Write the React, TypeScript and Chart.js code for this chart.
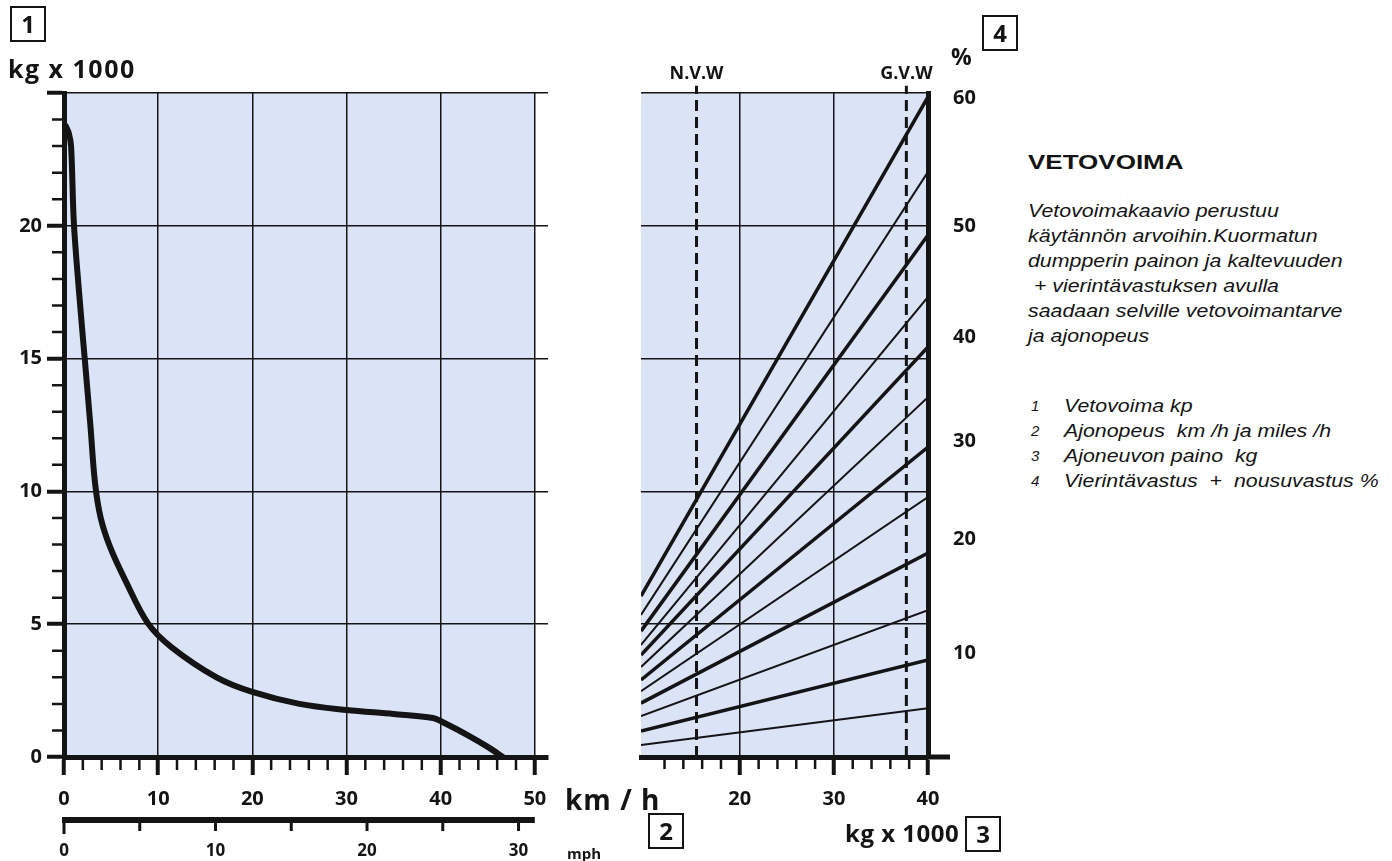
import React, { useEffect, useRef } from 'react';
import { Chart, registerables } from 'chart.js';

Chart.register(...registerables);

const INK = '#141414';
const PANEL_BLUE = '#dbe4f7';
const NUM_FONT = "'Open Sans', 'DejaVu Sans', sans-serif";
const TEXT_FONT = "'Liberation Sans', Arial, sans-serif";

// ---------- Left chart: tractive force (kg x 1000) vs speed (km/h) ----------
const speedKmh = [0.2, 0.5, 0.75, 1.05, 1.6, 2.2, 2.8, 3.3, 3.9, 4.9, 6.5, 8.9, 11.4, 16.2, 20, 25, 30, 35, 39.2, 40.3, 43, 45, 46.6];
const tractionKg = [23.75, 23.5, 23.0, 20.1, 17.5, 15.0, 12.5, 10.3, 9.0, 7.9, 6.66, 5.04, 4.14, 3.0, 2.45, 2.0, 1.77, 1.62, 1.47, 1.3, 0.8, 0.38, 0];
const kmhMajorTicks = [0, 10, 20, 30, 40, 50];
const kmhMinorTicks = [2, 4, 6, 8, 12, 14, 16, 18, 22, 24, 26, 28, 32, 34, 36, 38, 42, 44, 46, 48];
const kmhAxisMax = 51.4;
const kmhPlotEnd = 50;
const kmhPerMph = 1.609;
const mphLabelTicks = [0, 10, 20, 30];
const mphMarkTicks = [0, 5, 10, 15, 20, 25, 30];
const forceMajorTicks = [0, 5, 10, 15, 20, 25];
const forceLabels = ['0', '5', '10', '15', '20', ''];
const forceMinorTicks = [1, 2, 3, 4, 6, 7, 8, 9, 11, 12, 13, 14, 16, 17, 18, 19, 21, 22, 23, 24];
const forceMax = 25;

// ---------- Right chart: vehicle weight (kg x 1000) vs grade resistance (%) ----------
const weightMin = 9.5;
const weightMax = 40;
const weightMajorTicks = [20, 30, 40];
const weightMinorTicks = [12, 14, 16, 18, 22, 24, 26, 28, 32, 34, 36, 38];
const gradePct = [60, 55, 50, 45, 40, 35, 30, 25, 20, 15, 10, 5];
const gradeForceAtMin = [6.06, 5.35, 4.74, 4.22, 3.84, 3.39, 2.9, 2.48, 2.03, 1.54, 0.98, 0.45];
const gradeForceAtMax = [24.85, 22.03, 19.65, 17.32, 15.44, 13.55, 11.67, 9.79, 7.68, 5.53, 3.65, 1.84];
const gradeLabelPos = [24.8, 20.0, 15.8, 11.9, 8.2, 3.9];
const gradeLabels = ['60', '50', '40', '30', '20', '10'];
const refLineNames = ['N.V.W', 'G.V.W'];
const refLineWeights = [15.4, 37.7];
const refLineTop = 25.27;

const leftDecor = {
  id: 'leftDecor',
  beforeDraw(chart: any) {
    const { ctx, chartArea, scales } = chart;
    const x = scales.x;
    ctx.save();
    ctx.fillStyle = PANEL_BLUE;
    const right = x.getPixelForValue(kmhPlotEnd);
    ctx.fillRect(chartArea.left, chartArea.top, right - chartArea.left, chartArea.bottom - chartArea.top);
    ctx.restore();
  },
  afterDraw(chart: any) {
    const { ctx, chartArea, scales } = chart;
    const x = scales.x;
    const y = scales.y;
    const x2 = scales.x2;
    ctx.save();
    ctx.strokeStyle = INK;
    ctx.lineWidth = 2.5;
    ctx.beginPath();
    kmhMinorTicks.forEach((v) => {
      const px = x.getPixelForValue(v);
      ctx.moveTo(px, chartArea.bottom);
      ctx.lineTo(px, chartArea.bottom + 13);
    });
    forceMinorTicks.forEach((v) => {
      const py = y.getPixelForValue(v);
      ctx.moveTo(chartArea.left, py);
      ctx.lineTo(chartArea.left - 12, py);
    });
    ctx.stroke();
    // mph scale
    const lineY = x2.top + 1;
    ctx.lineWidth = 6;
    ctx.beginPath();
    ctx.moveTo(x2.getPixelForValue(0) - 2, lineY);
    ctx.lineTo(x2.getPixelForValue(kmhPlotEnd / kmhPerMph), lineY);
    ctx.stroke();
    ctx.lineWidth = 3;
    ctx.beginPath();
    mphMarkTicks.forEach((v, i) => {
      const px = x2.getPixelForValue(v);
      ctx.moveTo(px, lineY);
      ctx.lineTo(px, lineY + (i === 0 ? 14 : 11));
    });
    ctx.stroke();
    ctx.restore();
  },
};

const rightDecor = {
  id: 'rightDecor',
  beforeDraw(chart: any) {
    const { ctx, chartArea } = chart;
    ctx.save();
    ctx.fillStyle = PANEL_BLUE;
    ctx.fillRect(chartArea.left, chartArea.top, chartArea.right - chartArea.left, chartArea.bottom - chartArea.top);
    ctx.restore();
  },
  afterDraw(chart: any) {
    const { ctx, chartArea, scales } = chart;
    const x = scales.x;
    ctx.save();
    ctx.strokeStyle = INK;
    ctx.lineWidth = 2.5;
    ctx.beginPath();
    weightMinorTicks.forEach((v) => {
      const px = x.getPixelForValue(v);
      ctx.moveTo(px, chartArea.bottom);
      ctx.lineTo(px, chartArea.bottom + 12);
    });
    ctx.stroke();
    ctx.lineWidth = 5;
    ctx.beginPath();
    ctx.moveTo(chartArea.right, chartArea.bottom);
    ctx.lineTo(chartArea.right + 22, chartArea.bottom);
    ctx.stroke();
    ctx.fillStyle = INK;
    ctx.font = `bold 18px ${NUM_FONT}`;
    ctx.textAlign = 'center';
    ctx.textBaseline = 'middle';
    refLineWeights.forEach((w, i) => {
      ctx.fillText(refLineNames[i], x.getPixelForValue(w), chartArea.top - 19);
    });
    ctx.restore();
  },
};

const boxStyle = (left: number, top: number): React.CSSProperties => ({
  position: 'absolute',
  left,
  top,
  width: 32,
  height: 32,
  border: `2px solid ${INK}`,
  display: 'flex',
  alignItems: 'center',
  justifyContent: 'center',
  font: `bold 24px ${NUM_FONT}`,
  color: INK,
  lineHeight: 1,
});

const labelStyle = (left: number, centerY: number, size: number, spacing = 0): React.CSSProperties => ({
  position: 'absolute',
  left,
  top: centerY - size * 0.7,
  height: size * 1.4,
  lineHeight: `${size * 1.4}px`,
  font: `bold ${size}px ${NUM_FONT}`,
  letterSpacing: spacing,
  color: INK,
  whiteSpace: 'nowrap',
});

const paragraph = [
  'Vetovoimakaavio perustuu',
  'käytännön arvoihin.Kuormatun',
  'dumpperin painon ja kaltevuuden',
  '\u00a0+ vierintävastuksen avulla',
  'saadaan selville vetovoimantarve',
  'ja ajonopeus',
];
const legendNums = ['1', '2', '3', '4'];
const legendTexts = ['Vetovoima kp', 'Ajonopeus  km /h ja miles /h', 'Ajoneuvon paino  kg', 'Vierintävastus  +  nousuvastus %'];

export default function App() {
  const leftRef = useRef<HTMLCanvasElement>(null);
  const rightRef = useRef<HTMLCanvasElement>(null);

  useEffect(() => {
    const tickFont = { family: NUM_FONT, size: 20, weight: 'bold' as const };
    const left = new Chart(leftRef.current as HTMLCanvasElement, {
      type: 'line',
      data: {
        datasets: [
          {
            data: speedKmh.map((v, i) => ({ x: v, y: tractionKg[i] })),
            borderColor: INK,
            borderWidth: 6,
            pointRadius: 0,
            tension: 0.35,
            borderCapStyle: 'round',
            borderJoinStyle: 'round',
            fill: false,
          },
        ],
      },
      options: {
        responsive: false,
        animation: false,
        layout: { padding: { left: 0, top: 93, right: 72, bottom: 0 } },
        plugins: { legend: { display: false }, tooltip: { enabled: false } },
        scales: {
          x: {
            type: 'linear',
            position: 'bottom',
            min: 0,
            max: kmhAxisMax,
            weight: 0,
            afterBuildTicks: (s: any) => {
              s.ticks = kmhMajorTicks.map((v) => ({ value: v }));
            },
            afterFit: (s: any) => {
              s.height = 62;
            },
            ticks: { font: tickFont, color: INK, padding: 12, maxRotation: 0, autoSkip: false, callback: (v: any) => String(v) },
            grid: { color: INK, lineWidth: 1.5, drawTicks: true, tickLength: 18, tickWidth: 4, tickColor: INK },
            border: { display: true, color: INK, width: 5 },
          },
          x2: {
            type: 'linear',
            position: 'bottom',
            min: 0,
            max: kmhAxisMax / kmhPerMph,
            weight: 1,
            afterBuildTicks: (s: any) => {
              s.ticks = mphLabelTicks.map((v) => ({ value: v }));
            },
            afterFit: (s: any) => {
              s.height = 42;
            },
            ticks: { font: { family: NUM_FONT, size: 17, weight: 'bold' }, color: INK, padding: 22, maxRotation: 0, autoSkip: false },
            grid: { display: false, drawTicks: false },
            border: { display: false },
          },
          y: {
            type: 'linear',
            min: 0,
            max: forceMax,
            afterBuildTicks: (s: any) => {
              s.ticks = forceMajorTicks.map((v) => ({ value: v }));
            },
            afterFit: (s: any) => {
              s.width = 64;
            },
            ticks: { font: tickFont, color: INK, padding: 5, autoSkip: false, callback: (_v: any, i: number) => forceLabels[i] },
            grid: { color: INK, lineWidth: 1.5, drawTicks: true, tickLength: 17, tickWidth: 4, tickColor: INK },
            border: { display: true, color: INK, width: 5 },
          },
        },
      } as any,
      plugins: [leftDecor],
    });

    const right = new Chart(rightRef.current as HTMLCanvasElement, {
      type: 'line',
      data: {
        datasets: [
          ...gradePct.map((p, i) => ({
            data: [
              { x: weightMin, y: gradeForceAtMin[i] },
              { x: weightMax, y: gradeForceAtMax[i] },
            ],
            borderColor: INK,
            borderWidth: p % 10 === 0 ? 3.5 : 2,
            pointRadius: 0,
            fill: false,
          })),
          ...refLineWeights.map((w) => ({
            data: [
              { x: w, y: 0 },
              { x: w, y: refLineTop },
            ],
            borderColor: INK,
            borderWidth: 3,
            borderDash: [11, 6],
            pointRadius: 0,
            fill: false,
            clip: false,
          })),
        ],
      },
      options: {
        responsive: false,
        animation: false,
        layout: { padding: { left: 21, top: 93, right: 0, bottom: 0 } },
        plugins: { legend: { display: false }, tooltip: { enabled: false } },
        scales: {
          x: {
            type: 'linear',
            position: 'bottom',
            min: weightMin,
            max: weightMax,
            afterBuildTicks: (s: any) => {
              s.ticks = weightMajorTicks.map((v) => ({ value: v }));
            },
            afterFit: (s: any) => {
              s.height = 104;
            },
            ticks: { font: tickFont, color: INK, padding: 12, maxRotation: 0, autoSkip: false, callback: (v: any) => String(v) },
            grid: { color: INK, lineWidth: 1.5, drawTicks: true, tickLength: 18, tickWidth: 4, tickColor: INK },
            border: { display: true, color: INK, width: 5 },
          },
          y: {
            type: 'linear',
            position: 'left',
            min: 0,
            max: forceMax,
            afterBuildTicks: (s: any) => {
              s.ticks = forceMajorTicks.map((v) => ({ value: v }));
            },
            afterFit: (s: any) => {
              s.width = 0;
            },
            ticks: { display: false },
            grid: { color: INK, lineWidth: 1.5, drawTicks: false },
            border: { display: false },
          },
          yPct: {
            type: 'linear',
            position: 'right',
            min: 0,
            max: forceMax,
            afterBuildTicks: (s: any) => {
              s.ticks = gradeLabelPos.map((v) => ({ value: v }));
            },
            afterFit: (s: any) => {
              s.width = 82;
            },
            ticks: { font: tickFont, color: INK, padding: 25, autoSkip: false, callback: (_v: any, i: number) => gradeLabels[i] },
            grid: { drawOnChartArea: false, drawTicks: false },
            border: { display: true, color: INK, width: 5 },
          },
        },
      } as any,
      plugins: [rightDecor],
    });

    return () => {
      left.destroy();
      right.destroy();
    };
  }, []);

  const paraStyle: React.CSSProperties = {
    position: 'absolute',
    left: 1028,
    font: `italic 17.5px ${TEXT_FONT}`,
    color: INK,
    whiteSpace: 'pre',
    lineHeight: '20px',
    height: 20,
    transform: 'scaleX(1.22)',
    transformOrigin: 'left center',
  };

  return (
    <div style={{ position: 'fixed', left: 0, top: 0, width: 1392, height: 861, background: '#fff', overflow: 'hidden' }}>
      <canvas ref={leftRef} width={620} height={861} style={{ position: 'absolute', left: 0, top: 0, width: 620, height: 861 }} />
      <canvas ref={rightRef} width={390} height={861} style={{ position: 'absolute', left: 620, top: 0, width: 390, height: 861 }} />

      <div style={boxStyle(10, 6)}>1</div>
      <div style={labelStyle(8, 68, 25, 1.5)}>kg x 1000</div>
      <div style={labelStyle(565, 800, 28, 1)}>km / h</div>
      <div style={labelStyle(567, 853, 15)}>mph</div>
      <div style={boxStyle(648, 813)}>2</div>
      <div style={labelStyle(845, 833, 24, 0.5)}>kg x 1000</div>
      <div style={boxStyle(965, 816)}>3</div>
      <div style={boxStyle(982, 15)}>4</div>
      <div style={labelStyle(951, 56, 23)}>%</div>

      <div
        style={{
          position: 'absolute',
          left: 1028,
          top: 150,
          font: `bold 20px ${TEXT_FONT}`,
          color: INK,
          lineHeight: '24px',
          transform: 'scaleX(1.3)',
          transformOrigin: 'left center',
          whiteSpace: 'nowrap',
        }}
      >
        VETOVOIMA
      </div>
      {paragraph.map((line, i) => (
        <div key={'p' + i} style={{ ...paraStyle, top: 201 + i * 25 }}>
          {line}
        </div>
      ))}
      {legendTexts.map((t, i) => (
        <React.Fragment key={'l' + i}>
          <div style={{ ...paraStyle, left: 1031, top: 396 + i * 25, transform: 'none', fontSize: 15 }}>{legendNums[i]}</div>
          <div style={{ ...paraStyle, left: 1064, top: 396 + i * 25 }}>{t}</div>
        </React.Fragment>
      ))}
    </div>
  );
}
